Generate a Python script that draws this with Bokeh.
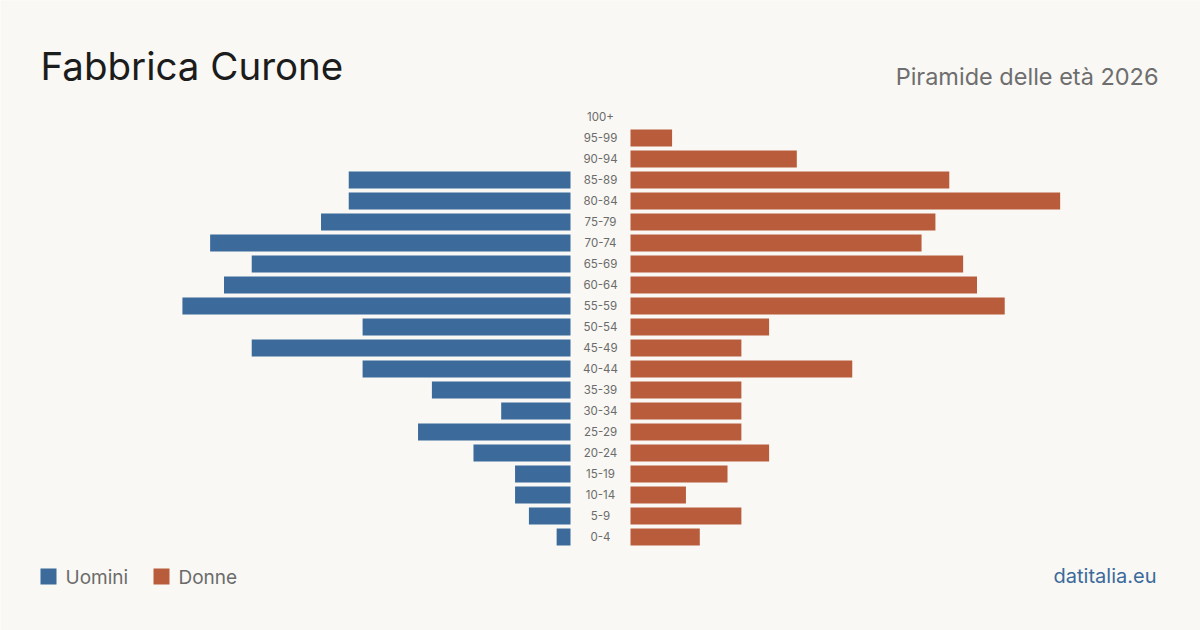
from bokeh.plotting import figure
from bokeh.models import Range1d, Label, BoxAnnotation, ColumnDataSource
from bokeh.core.properties import value
from bokeh.embed import file_html
from bokeh.resources import INLINE

# Age classes, youngest first
ages = ["0-4", "5-9", "10-14", "15-19", "20-24", "25-29", "30-34", "35-39",
        "40-44", "45-49", "50-54", "55-59", "60-64", "65-69", "70-74",
        "75-79", "80-84", "85-89", "90-94", "95-99", "100+"]
men = [1, 3, 4, 4, 7, 11, 5, 10, 15, 23, 15, 28, 25, 23, 26, 18, 16, 16, 0, 0, 0]
women = [5, 8, 4, 7, 10, 8, 8, 8, 16, 8, 10, 27, 25, 24, 21, 22, 31, 23, 12, 3, 0]

MEN_COLOR = "#3b6a9b"
WOMEN_COLOR = "#b95c3c"
BG = "#f9f8f4"
FONT = "Inter"

W, H = 1200, 630
PX_PER_UNIT = 13.86          # horizontal scale: pixels per person
ROW_PX = 21                  # vertical pitch of the age rows
HALF_GAP = 30 / PX_PER_UNIT  # room for the age labels in the middle

idx = list(range(len(ages)))
# row 0 centred 93.5 px above the bottom edge of the canvas
y_bottom = -(H - 536.5) / ROW_PX
y_top = 536.5 / ROW_PX

p = figure(width=W, height=H, output_backend="svg", toolbar_location=None,
           x_range=Range1d(-W / 2 / PX_PER_UNIT, W / 2 / PX_PER_UNIT),
           y_range=Range1d(y_bottom, y_top),
           min_border=0, outline_line_color=None,
           background_fill_color=BG, border_fill_color=BG)
p.axis.visible = False
p.grid.visible = False

src = ColumnDataSource(dict(
    y=idx, age=ages,
    m_left=[-HALF_GAP - v for v in men], m_right=[-HALF_GAP] * len(men),
    w_left=[HALF_GAP] * len(women), w_right=[HALF_GAP + v for v in women],
    zero=[0] * len(ages),
))

bar_h = 17 / ROW_PX
p.hbar(y="y", left="m_left", right="m_right", height=bar_h, source=src,
       fill_color=MEN_COLOR, line_color=None)
p.hbar(y="y", left="w_left", right="w_right", height=bar_h, source=src,
       fill_color=WOMEN_COLOR, line_color=None)

p.text(x="zero", y="y", text="age", source=src, text_align="center",
       text_baseline="middle", text_font=value(FONT), text_font_size="11.5px",
       text_color="#6b6b6b", y_offset=-0.5)

# Titles
p.add_layout(Label(x=40, y=H - 65.5, x_units="screen", y_units="screen",
                   text="Fabbrica Curone", text_font=FONT, text_font_size="38.5px",
                   text_color="#1c1c1c", text_baseline="alphabetic"))
p.add_layout(Label(x=1158, y=H - 75.6, x_units="screen", y_units="screen",
                   text="Piramide delle età 2026", text_font=FONT,
                   text_font_size="23.5px", text_color="#6e6e6e",
                   text_align="right", text_baseline="alphabetic"))

# Legend
for x0, color, name in [(40, MEN_COLOR, "Uomini"), (153, WOMEN_COLOR, "Donne")]:
    p.add_layout(BoxAnnotation(left=x0, right=x0 + 16, bottom=H - 584, top=H - 568,
                               left_units="screen", right_units="screen",
                               bottom_units="screen", top_units="screen",
                               fill_color=color, fill_alpha=1, line_color=None))
    p.add_layout(Label(x=x0 + 25, y=H - 576.5, x_units="screen", y_units="screen",
                       text=name, text_font=FONT, text_font_size="19px",
                       text_color="#6b6b6b", text_baseline="alphabetic"))

p.add_layout(Label(x=1156, y=H - 575, x_units="screen", y_units="screen",
                   text="datitalia.eu", text_font=FONT, text_font_size="20px",
                   text_color="#3b6a9b", text_align="right",
                   text_baseline="alphabetic"))

open("out.html", "w").write(file_html(p, INLINE))
